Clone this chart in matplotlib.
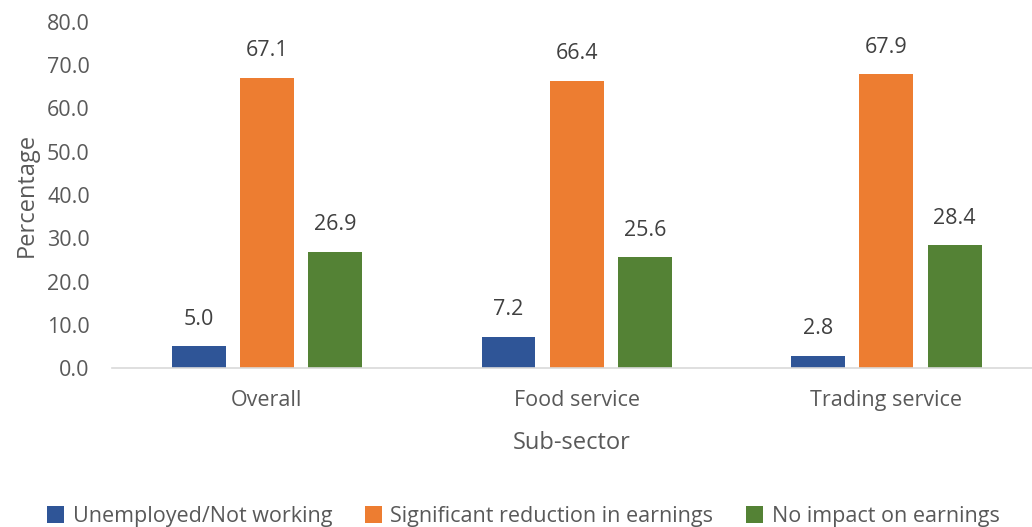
import matplotlib
matplotlib.use("Agg")
import matplotlib.pyplot as plt
import numpy as np

categories = ["Overall", "Food service", "Trading service"]
unemployed = [5.0, 7.2, 2.8]
reduction = [67.1, 66.4, 67.9]
no_impact = [26.9, 25.6, 28.4]
series_names = ["Unemployed/Not working", "Significant reduction in earnings",
                "No impact on earnings"]
colors = ["#2F5597", "#ED7D31", "#548235"]
yticks = [0, 10, 20, 30, 40, 50, 60, 70, 80]

plt.rcParams["font.family"] = ["Open Sans", "DejaVu Sans"]

fig = plt.figure(figsize=(10.32, 5.27), dpi=100)
ax = fig.add_axes([112 / 1032, (527 - 368) / 527, (1032 - 112) / 1032, 346 / 527])

x = np.arange(len(categories))
w = 0.174
off = 0.22
for i, (vals, name, c) in enumerate(zip([unemployed, reduction, no_impact], series_names, colors)):
    bars = ax.bar(x + (i - 1) * off, vals, w, color=c, label=name)
    for b, v in zip(bars, vals):
        ax.annotate(f"{v:.1f}", (b.get_x() + b.get_width() / 2, v),
                    xytext=(0, 12), textcoords="offset points",
                    ha="center", va="bottom", fontsize=15.5, color="#404040")

ax.set_xlim(-0.5, 2.47)
ax.set_ylim(0, 80)
ax.set_yticks(yticks)
ax.set_yticklabels([f"{t:.1f}" for t in yticks])
ax.set_xticks(x)
ax.set_xticklabels(categories)
ax.tick_params(axis="both", length=0, labelsize=15.5, colors="#595959")
ax.tick_params(axis="x", pad=16)
ax.tick_params(axis="y", pad=16)
for s in ["top", "right", "left"]:
    ax.spines[s].set_visible(False)
ax.spines["bottom"].set_color("#D9D9D9")
ax.spines["bottom"].set_linewidth(1.2)
ax.set_xlabel("Sub-sector", fontsize=17, color="#595959", labelpad=14)
ax.set_ylabel("Percentage", fontsize=17, color="#595959", labelpad=6)

leg = fig.legend(loc="center", bbox_to_anchor=(0.507, 0.02), ncol=3, frameon=False,
                 fontsize=15.5, handlelength=0.8, handleheight=0.8, columnspacing=1.5,
                 handletextpad=0.4)
for t in leg.get_texts():
    t.set_color("#595959")

fig.savefig("out.png", dpi=100)
